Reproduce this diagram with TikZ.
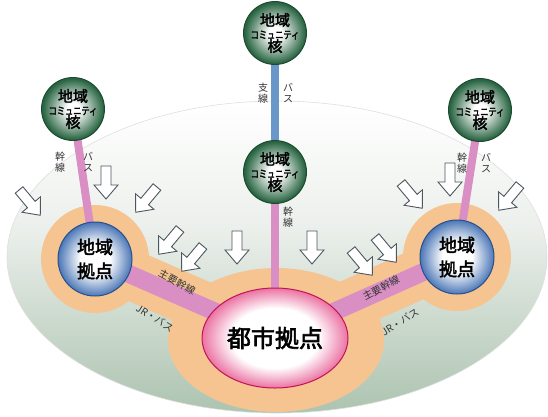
\documentclass[tikz,border=0pt]{standalone}
\usepackage{fontspec}
\usepackage{graphicx}
\usetikzlibrary{shapes.geometric}
\newfontfamily\cjk{Noto Sans CJK JP}
\newfontfamily\cjkb{Noto Sans CJK JP}[FakeBold=2.5]
\definecolor{peach}{HTML}{F6C490}
\definecolor{pinkline}{HTML}{D98FC4}
\definecolor{blueline}{HTML}{6A97CA}
\definecolor{gcore}{HTML}{2A6643}
\definecolor{gcoreD}{HTML}{1D4A2F}
\definecolor{bhub}{HTML}{3465AD}
\definecolor{bhubD}{HTML}{284F8E}
\definecolor{mag}{HTML}{DF1F6B}
\definecolor{magD}{HTML}{C0145A}
\definecolor{gB}{HTML}{76A07C}
\definecolor{gM}{HTML}{B7CBBA}
\definecolor{gT}{HTML}{ECF0EC}
\definecolor{arrowline}{HTML}{4E5660}
\definecolor{labtxt}{HTML}{333333}
\pgfdeclareverticalshading{bgsh}{100bp}{color(0bp)=(gB); color(30bp)=(gM); color(55bp)=(gT); color(75bp)=(white); color(100bp)=(white)}
\pgfdeclareradialshading{gball}{\pgfpoint{0bp}{0bp}}{color(0bp)=(white); color(5bp)=(white); color(24bp)=(gcore); color(50bp)=(gcore)}
\pgfdeclareradialshading{bball}{\pgfpoint{0bp}{0bp}}{color(0bp)=(white); color(10bp)=(white); color(27bp)=(bhub); color(50bp)=(bhub)}
\pgfdeclareradialshading{mball}{\pgfpoint{0bp}{0bp}}{color(0bp)=(white); color(15bp)=(white); color(31bp)=(mag); color(50bp)=(mag)}
\pgfdeclarelayer{bgA}
\pgfdeclarelayer{bgB}
\pgfsetlayers{bgA,bgB,main}
\tikzset{
  core/.style={circle, minimum size=56pt, inner sep=0pt, draw=gcoreD, line width=1pt,
    shading=gball, align=center, font=\cjkb\fontsize{15}{15}\selectfont},
  hub/.style={circle, minimum size=74pt, inner sep=0pt, draw=bhubD, line width=1pt,
    shading=bball, align=center, font=\cjkb\fontsize{18}{24}\selectfont},
  cityhub/.style={ellipse, minimum width=146pt, minimum height=100pt, inner sep=0pt, draw=magD, line width=1pt,
    shading=mball, font=\cjkb\fontsize{24}{24}\selectfont},
  band/.style={line width=18pt, pinkline},
  thinline/.style={line width=8pt},
  pband/.style={line width=50pt, peach},
  lab/.style={font=\cjk\fontsize{10}{11.5}\selectfont, text=labtxt, align=center, inner sep=0pt},
  blk/.pic={\draw[fill=white, draw=arrowline, line width=0.9pt, line join=miter]
     (-5,-17) -- (5,-17) -- (5,2) -- (12,2) -- (0,16) -- (-12,2) -- (-5,2) -- cycle;}
}
\newcommand{\smallkana}[1]{\scalebox{0.78}[1]{\fontsize{10.5}{11}\selectfont #1}}
\begin{document}
\begin{tikzpicture}[x=1pt,y=-1pt]
\useasboundingbox (0,0) rectangle (548,416);

% nodes
\node[core] (ctop) at (275,33) {地域\\[-2pt]\smallkana{コミュニティ}\\[-2pt]核};
\node[core] (cmid) at (275,172) {地域\\[-2pt]\smallkana{コミュニティ}\\[-2pt]核};
\node[core] (cleft) at (73,109) {地域\\[-2pt]\smallkana{コミュニティ}\\[-2pt]核};
\node[core] (cright) at (480,110) {地域\\[-2pt]\smallkana{コミュニティ}\\[-2pt]核};
\node[hub] (hleft) at (95,259) {地域\\拠点};
\node[hub] (hright) at (457,257) {地域\\拠点};
\node[cityhub] (city) at (275,338) {都市拠点};

\begin{pgfonlayer}{bgA}
  \path[shading=bgsh, draw=gray!25, line width=0.6pt] (277,257) ellipse (270 and 156);
  \fill[peach] (hleft.center) circle (54);
  \fill[peach] (hright.center) circle (54);
  \fill[peach] (276,340) ellipse (108 and 72);
  \draw[pband] (hleft.center) -- (city.center);
  \draw[pband] (hright.center) -- (city.center);
\end{pgfonlayer}
\begin{pgfonlayer}{bgB}
  \draw[band] (hleft.center) -- (city.center);
  \draw[band] (hright.center) -- (city.center);
  \draw[thinline, blueline] (ctop) -- (cmid);
  \draw[thinline, pinkline] (cmid) -- (city);
  \draw[thinline, pinkline] (cleft.center) -- (hleft.center);
  \draw[thinline, pinkline] (cright.center) -- (hright.center);
\end{pgfonlayer}

% arrows
\pic[rotate=40] at (30,203) {blk};
\pic at (106,183) {blk};
\pic[rotate=-40] at (146,200) {blk};
\pic[rotate=-40] at (169,242) {blk};
\pic[rotate=-40] at (192,259) {blk};
\pic at (237,248) {blk};
\pic at (312,248) {blk};
\pic[rotate=40] at (362,263) {blk};
\pic[rotate=40] at (386,250) {blk};
\pic[rotate=40] at (412,196) {blk};
\pic at (450,180) {blk};
\pic[rotate=-40] at (509,198) {blk};

% labels
\node[lab] (l1) at (263,93) {支\\線};
\node[lab] (l2) at (288,93) {バ\\ス};
\node[lab] (l3) at (288,217) {幹\\線};
\node[lab] (l4) at (60,162) {幹\\線};
\node[lab] (l5) at (88,162) {バ\\ス};
\node[lab] (l6) at (462,163) {幹\\線};
\node[lab] (l7) at (486,163) {バ\\ス};
\node[lab, rotate=-28] (l8) at (177,282) {主要幹線};
\node[lab, rotate=-32] (l9) at (155,318) {JR・バス};
\node[lab, rotate=28] (l10) at (381,288) {主要幹線};
\node[lab, rotate=32] (l11) at (400,322) {JR・バス};
\end{tikzpicture}
\end{document}
